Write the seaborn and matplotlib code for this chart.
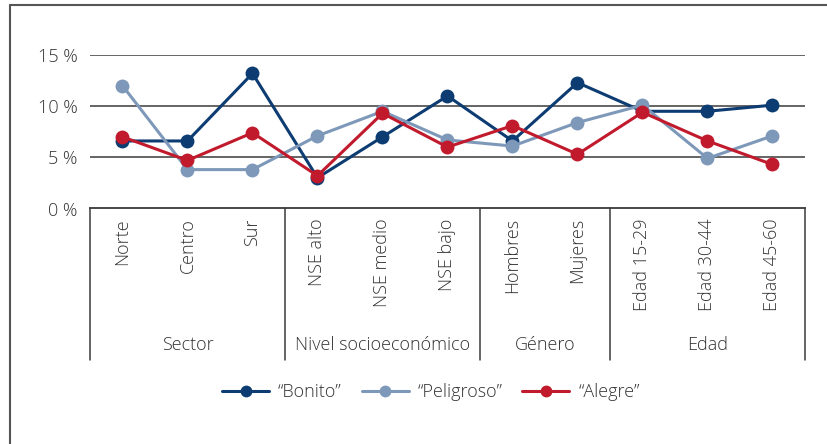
import matplotlib
matplotlib.use("Agg")
import matplotlib.pyplot as plt
from matplotlib.lines import Line2D
import seaborn as sns
import pandas as pd

categories = ["Norte", "Centro", "Sur", "NSE alto", "NSE medio", "NSE bajo",
              "Hombres", "Mujeres", "Edad 15-29", "Edad 30-44", "Edad 45-60"]
groups = ["Sector", "Nivel socioeconómico", "Género", "Edad"]
group_sizes = [3, 3, 2, 3]
bonito = [6.6, 6.6, 13.2, 3.0, 7.0, 11.0, 6.6, 12.3, 9.5, 9.5, 10.1]
peligroso = [12.0, 3.8, 3.8, 7.1, 9.5, 6.7, 6.1, 8.4, 10.1, 4.9, 7.1]
alegre = [7.0, 4.7, 7.4, 3.2, 9.3, 6.0, 8.1, 5.3, 9.4, 6.6, 4.3]
series_names = ["\u201cBonito\u201d", "\u201cPeligroso\u201d", "\u201cAlegre\u201d"]
yticks = [0, 5, 10, 15]
ytick_labels = ["0 %", "5 %", "10 %", "15 %"]

colors = ["#0c3c72", "#7d98b8", "#c01a2c"]
txt = "#333333"

rows = []
for name, vals in zip(series_names, [bonito, peligroso, alegre]):
    for i, v in enumerate(vals):
        rows.append({"pos": i, "valor": v, "serie": name})
df = pd.DataFrame(rows)

sns.set_theme(style="white")
plt.rcParams["font.family"] = ["Open Sans", "DejaVu Sans"]
plt.rcParams["font.weight"] = "light"
FS = 13

fig = plt.figure(figsize=(8.28, 4.44), dpi=100)
W, H = 828, 444
x0, x1, ytop, ybot = 90, 805, 55, 208.5
ax = fig.add_axes([x0 / W, 1 - ybot / H, (x1 - x0) / W, (ybot - ytop) / H])

for y in yticks[1:]:
    ax.axhline(y, color="#3a3a3a", lw=1.1, zorder=0)

sns.lineplot(data=df, x="pos", y="valor", hue="serie", hue_order=series_names,
             palette=colors, marker="o", markersize=10, markeredgewidth=0,
             linewidth=2.2, ax=ax, legend=False, zorder=3)

ax.set_xlim(-0.5, len(categories) - 0.5)
ax.set_ylim(0, 15)
for s in ["top", "right", "left"]:
    ax.spines[s].set_visible(False)
ax.spines["bottom"].set_color("#3a3a3a")
ax.spines["bottom"].set_linewidth(1.3)
ax.set_xlabel("")
ax.set_ylabel("")
ax.set_yticks(yticks)
ax.set_yticklabels(ytick_labels, fontsize=FS, color=txt)
ax.tick_params(axis="y", length=0, pad=9)
ax.set_xticks(range(len(categories)))
ax.set_xticklabels(categories, rotation=90, fontsize=FS, color=txt, va="top")
ax.tick_params(axis="x", length=0, pad=7)

# group separators and labels
trans = ax.get_xaxis_transform()
yb = (ybot - 360) / (ybot - ytop)
ylab = (ybot - 345) / (ybot - ytop)
start = -0.5
bounds = [start]
for n in group_sizes:
    bounds.append(bounds[-1] + n)
for b in bounds:
    ax.plot([b, b], [0, yb], transform=trans, color="#3a3a3a", lw=1.1, clip_on=False)
for g, a, b in zip(groups, bounds[:-1], bounds[1:]):
    ax.text((a + b) / 2, ylab, g, transform=trans, ha="center", va="center",
            fontsize=FS, color=txt)

handles = [Line2D([], [], color=c, lw=2.2, marker="o", markersize=8.5, markeredgewidth=0)
           for c in colors]
fig.legend(handles, series_names, loc="center", bbox_to_anchor=(431 / W, 1 - 392 / H),
           ncol=3, frameon=False, fontsize=FS, handlelength=2.6, columnspacing=1.1,
           handletextpad=0.5, labelcolor=txt)

# outer frame (top and left)
fig.add_artist(Line2D([10 / W, 1], [1 - 5 / H, 1 - 5 / H], transform=fig.transFigure,
                      color="#555555", lw=1.5))
fig.add_artist(Line2D([10 / W, 10 / W], [0, 1 - 5 / H], transform=fig.transFigure,
                      color="#555555", lw=1.5))

fig.savefig("out.png", dpi=100, facecolor="white")
